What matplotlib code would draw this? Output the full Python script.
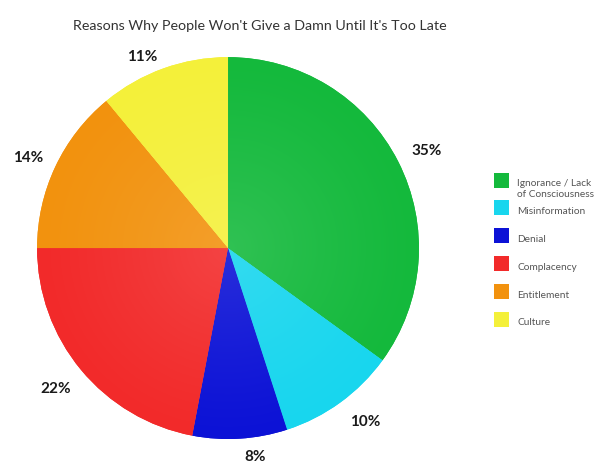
import matplotlib
matplotlib.use('Agg')
import matplotlib.pyplot as plt
from matplotlib.patches import Rectangle
from matplotlib.colors import to_rgb
import numpy as np

categories = ['Ignorance / Lack\nof Consciousness', 'Misinformation', 'Denial',
              'Complacency', 'Entitlement', 'Culture']
shares = [35, 10, 8, 22, 14, 11]
colors = ['#14b93c', '#18d6ee', '#0c12d6', '#f22a2a', '#f2920e', '#f4f03a']
title = "Reasons Why People Won't Give a Damn Until It's Too Late"

# label placement tweaks: radial distance and angle nudge (degrees)
label_dist = [1.16, 1.155, 1.10, 1.16, 1.15, 1.10]
label_nudge = [-0.8, 2.4, 3.8, -0.5, 0.7, 4.3]

plt.rcParams['font.family'] = ['Lato', 'DejaVu Sans']

W, H = 603, 464
fig = plt.figure(figsize=(W / 100, H / 100), dpi=100)
ax = fig.add_axes([0.0614, 0.0517, 0.6335, 0.823])

wedges, texts, autotexts = ax.pie(
    shares, colors=colors, startangle=90, counterclock=False,
    autopct='%d%%', pctdistance=1.0, labels=None,
    wedgeprops=dict(linewidth=0),
    textprops=dict(fontsize=11, fontweight='bold', color='#1a1a1a'))
ax.set_xlim(-1, 1)
ax.set_ylim(-1, 1)
ax.set_aspect('equal')

# soft radial glow, a little lighter toward the middle of the pie
g = np.linspace(-1, 1, 300)
xx, yy = np.meshgrid(g, g)
rr = np.clip(np.hypot(xx, yy), 0, 1)
glow = (0.12 * (1 - rr) ** 1.2)[..., None]
for w, c in zip(wedges, colors):
    base = np.array(to_rgb(c))
    img = base * (1 - glow) + glow
    im = ax.imshow(img, extent=(-1, 1, -1, 1), origin='lower', zorder=w.get_zorder() + 0.1)
    im.set_clip_path(w)

for w, t, d, n in zip(wedges, autotexts, label_dist, label_nudge):
    ang = np.deg2rad((w.theta1 + w.theta2) / 2 + n)
    t.set_position((d * np.cos(ang), d * np.sin(ang)))
    t.set_clip_on(False)

fig.text(0.431, 0.944, title, ha='center', va='center', fontsize=10.3, color='#333333')

# legend drawn by hand so rows keep an even pitch
sq = 15
for i, (lab, c) in enumerate(zip(categories, colors)):
    yc = 181 + 27.8 * i
    fig.add_artist(Rectangle((494 / W, 1 - (yc + sq / 2) / H), sq / W, sq / H,
                             transform=fig.transFigure, facecolor=c, edgecolor='none'))
    nl = lab.count('\n')
    fig.text(517 / W, 1 - (yc + 3 + 5 * nl) / H, lab, ha='left', va='center',
             fontsize=7.3, color='#555555', linespacing=1.15)

fig.savefig('out.png', dpi=100, facecolor='white')
